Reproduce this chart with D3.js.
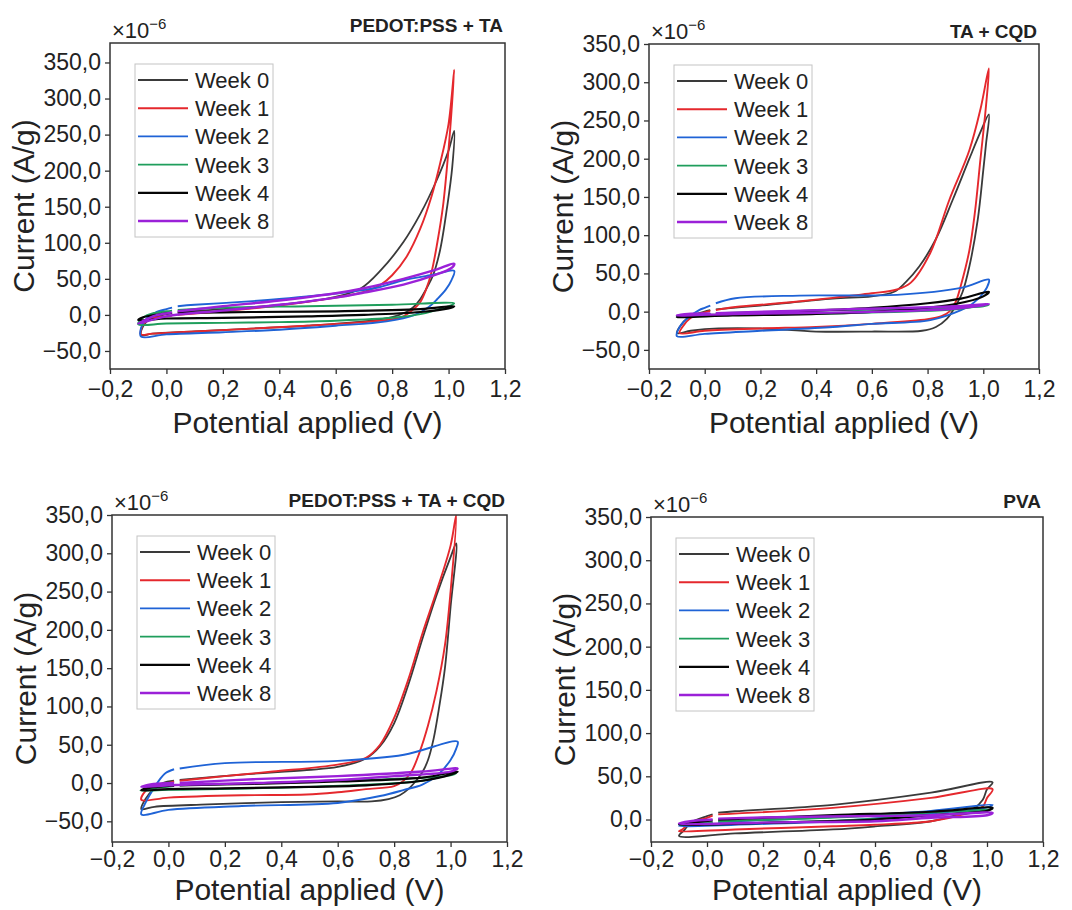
<!DOCTYPE html>
<html>
<head>
<meta charset="utf-8">
<script src="https://cdn.jsdelivr.net/npm/d3@7/dist/d3.min.js"></script>
<style>
  body { margin: 0; background: #fff; }
  svg text { font-family: "Liberation Sans", Arial, sans-serif; }
</style>
</head>
<body>
<div id="chart"></div>
<script>

/* data: cyclic voltammetry loops, current in 1e-6 A/g vs potential in V */
var weeks = ["Week 0", "Week 1", "Week 2", "Week 3", "Week 4", "Week 8"];
var weekColors = ["#3a3a3a", "#e5282d", "#1f63d6", "#1f9e5c", "#050505", "#9b21d8"];
var weekWidths = [1.8, 1.9, 1.9, 1.9, 2.2, 2.4];

var panelTitles = ["PEDOT:PSS + TA", "TA + CQD", "PEDOT:PSS + TA + CQD", "PVA"];
var xTicks = [-0.2, 0, 0.2, 0.4, 0.6, 0.8, 1.0, 1.2];
var yTicks = [-50, 0, 50, 100, 150, 200, 250, 300, 350];

// each loop: forward branch -> 1.02 V -> reverse branch -> -0.1 V -> back up
var pedotTA = [
  [[0.04,4],[0.2,8],[0.4,14],[0.6,25],[0.69,37],[0.76,62],[0.84,101],[0.9,140],[0.957,186],[1.0,228],[1.02,255],
   [1.013,205],[0.995,150],[0.97,90],[0.945,55],[0.925,39],[0.9,22],[0.876,11],[0.85,4],[0.8,-3],[0.7,-9],[0.5,-15],[0.3,-19],[0.1,-23],[-0.05,-26],[-0.09,-28],
   [-0.08,-14],[-0.05,-4],[0.0,1],[0.02,3]],
  [[0.04,0],[0.2,5],[0.4,13],[0.6,24],[0.7,32],[0.76,42],[0.8,55],[0.85,80],[0.9,120],[0.94,165],[0.97,210],[1.0,265],[1.02,340],
   [1.01,280],[1.0,230],[0.98,150],[0.96,100],[0.94,60],[0.92,35],[0.9,18],[0.87,6],[0.84,-2],[0.8,-6],[0.7,-10],[0.5,-15],[0.3,-19],[0.1,-23],[-0.05,-26],[-0.09,-27],
   [-0.08,-12],[-0.05,-5],[0.0,-2],[0.02,-1]],
  [[0.04,12],[0.1,14],[0.265,18],[0.4,22],[0.61,30],[0.75,38],[0.84,48],[0.95,56],[1.02,61],
   [1.01,48],[0.99,35],[0.96,22],[0.93,11],[0.88,0],[0.78,-9],[0.6,-15],[0.38,-21],[0.2,-24],[0.0,-27],[-0.09,-30],
   [-0.09,-18],[-0.07,-5],[-0.04,3],[0.0,8],[0.02,10]],
  [[0.04,7],[0.2,10],[0.5,12],[0.8,14],[1.02,16],
   [1.0,12],[0.95,6],[0.9,1],[0.8,-4],[0.6,-8],[0.4,-10],[0.2,-11],[0.0,-12],[-0.1,-13],
   [-0.08,-3],[-0.05,2],[0.0,5],[0.02,6]],
  [[0.04,3],[0.3,4],[0.6,5],[0.9,8],[1.02,12],
   [1.0,9],[0.9,4],[0.7,0],[0.5,-2],[0.2,-4],[0.0,-5],[-0.1,-7],
   [-0.08,-3],[-0.04,0],[0.0,2],[0.02,2.5]],
  [[0.04,5],[0.2,12],[0.4,20],[0.6,30],[0.7,37],[0.84,50],[0.95,62],[1.02,71],
   [1.01,65],[0.95,55],[0.84,42],[0.7,31],[0.6,24],[0.4,14],[0.2,6],[0.0,-2],[-0.1,-12],
   [-0.08,-8],[-0.04,-1],[0.0,2],[0.02,3.5]]
];

var taCQD = [
  [[0.04,3],[0.2,8],[0.46,17],[0.6,20],[0.68,26],[0.72,38],[0.77,59],[0.83,95],[0.89,146],[0.95,200],[0.99,235],[1.02,258],
   [1.01,220],[1.0,185],[0.98,120],[0.95,59],[0.925,25],[0.9,7],[0.87,-9],[0.83,-20],[0.78,-25],[0.6,-26],[0.4,-26],[0.2,-22],[0.05,-22],[-0.05,-25],[-0.1,-28],
   [-0.09,-20],[-0.06,-8],[-0.02,-2],[0.02,2]],
  [[0.04,2],[0.11,6],[0.3,12],[0.46,18],[0.6,24],[0.69,29],[0.74,38],[0.81,77],[0.878,146],[0.95,211],[0.99,265],[1.02,318],
   [1.01,270],[0.99,200],[0.97,130],[0.95,80],[0.92,35],[0.9,12],[0.878,0],[0.85,-6],[0.8,-10],[0.6,-16],[0.4,-20],[0.2,-22],[0.0,-25],[-0.09,-28],
   [-0.08,-20],[-0.05,-8],[0.0,-1],[0.02,1]],
  [[0.04,11],[0.11,17.5],[0.34,21],[0.69,22],[0.92,31],[1.02,42],
   [1.02,38],[1.0,24],[0.96,10],[0.92,2],[0.81,-11],[0.6,-16],[0.46,-20],[0.2,-25],[0.0,-29],[-0.1,-32],
   [-0.09,-20],[-0.06,-8],[-0.02,2],[0.0,5],[0.02,8]],
  [[0.04,-2],[0.5,2],[1.0,7],[1.02,9],
   [0.9,3],[0.5,-2],[0.0,-4],[-0.1,-6],
   [-0.05,-4],[0.02,-3]],
  [[0.04,-3],[0.3,0],[0.6,5],[0.8,11],[0.92,17],[1.02,26],
   [1.0,20],[0.9,10],[0.7,2],[0.4,-3],[0.1,-5],[-0.1,-7],
   [-0.08,-5],[-0.03,-4],[0.02,-3.5]],
  [[0.04,-2],[0.5,3],[0.9,7],[1.02,10],
   [0.9,4],[0.5,-1],[0.1,-3],[-0.1,-5],
   [-0.06,-3],[0.02,-2.5]]
];

var pedotTACQD = [
  [[0.04,4],[0.26,11],[0.49,17],[0.6,21],[0.7,32],[0.75,48],[0.8,78],[0.85,128],[0.9,188],[0.95,245],[1.0,295],[1.02,313],
   [1.0,230],[0.98,150],[0.96,100],[0.94,58],[0.92,30],[0.9,14],[0.88,4],[0.85,-8],[0.82,-16],[0.78,-21],[0.72,-24],[0.6,-24],[0.4,-25],[0.14,-28],[-0.05,-31],[-0.096,-34],
   [-0.08,-20],[-0.055,-9],[-0.02,0],[0.02,3]],
  [[0.04,3],[0.2,9],[0.37,15],[0.6,24],[0.7,33],[0.75,50],[0.8,85],[0.85,135],[0.9,195],[0.95,250],[1.0,310],[1.02,350],
   [1.0,250],[0.98,180],[0.95,120],[0.92,75],[0.89,40],[0.86,14],[0.83,2],[0.8,-4],[0.7,-8],[0.6,-12],[0.49,-15],[0.26,-16],[0.0,-19],[-0.096,-22],
   [-0.08,-10],[-0.05,-3],[0.0,0],[0.02,2]],
  [[0.04,19],[0.2,26],[0.6,29],[0.835,37],[1.025,54],
   [1.02,45],[1.0,30],[0.95,9],[0.9,-2],[0.835,-9],[0.75,-17],[0.6,-26],[0.26,-30],[0.0,-35],[-0.096,-41],
   [-0.08,-25],[-0.055,-9],[-0.03,5],[-0.01,13],[0.02,18]],
  [[0.04,-3],[0.5,2],[1.0,10],[1.02,13],
   [0.9,3],[0.5,-5],[0.0,-9],[-0.1,-10],
   [-0.05,-7],[0.02,-4]],
  [[0.04,-3],[0.3,-1],[0.6,2],[0.9,7],[1.025,15],
   [1.0,11],[0.9,3],[0.7,-3],[0.5,-5],[0.2,-7],[0.0,-8],[-0.096,-9.5],
   [-0.08,-7],[-0.04,-5],[0.02,-3.5]],
  [[0.04,0],[0.3,5],[0.6,9],[0.9,15],[1.025,19],
   [1.0,15],[0.8,9],[0.6,4],[0.3,0],[0.0,-3],[-0.096,-5],
   [-0.08,-3],[-0.04,-1],[0.02,0]]
];

var pva = [
  [[0.04,8],[0.1,9.6],[0.45,17],[0.8,31],[1.02,43],
   [1.0,35],[0.985,23],[0.95,12],[0.915,7.7],[0.8,-2],[0.6,-8],[0.45,-11.5],[0.1,-16],[-0.1,-19],
   [-0.08,-12],[-0.06,-4],[0.0,4],[0.02,6]],
  [[0.04,6],[0.45,13.5],[0.8,25],[1.02,35],
   [1.0,25],[0.985,15],[0.915,6],[0.8,-2],[0.6,-6],[0.45,-7.7],[0.1,-11.5],[-0.1,-13.5],
   [-0.09,-12],[-0.06,-4],[0.0,2],[0.02,4.6]],
  [[0.04,-3],[0.45,3],[0.8,10],[1.02,17],
   [1.0,14],[0.8,7],[0.45,-2],[0.1,-6],[-0.1,-7.7],
   [-0.08,-6],[0.02,-4]],
  [[0.04,-2],[0.5,3],[1.02,12],
   [0.8,5],[0.4,-2],[0.0,-5],[-0.1,-6],
   [0.02,-3]],
  [[0.04,0],[0.45,5],[0.8,9],[1.02,13.5],
   [1.0,10],[0.8,5],[0.6,0],[0.3,-3],[-0.1,-6],
   [-0.06,-4],[0.02,-1]],
  [[0.04,1],[0.3,3],[0.6,4],[0.8,5],[1.02,7.7],
   [1.0,5],[0.8,2],[0.6,-2],[0.3,-3],[-0.1,-4.6],
   [-0.06,-2],[0.02,0]]
];

var panelData = [pedotTA, taCQD, pedotTACQD, pva];

/* layout of the four frames (pixels), y domain per panel */
var panels = [
  {left: 110, right: 505, top: 43,  bottom: 369, ymin: -75, ymax: 377, titleY: 32,  xTitleGap: 64, tickPad: 7},
  {left: 649, right: 1039, top: 44, bottom: 369, ymin: -75, ymax: 350, titleY: 38,  xTitleGap: 64, tickPad: 7},
  {left: 112, right: 507, top: 515, bottom: 842, ymin: -77, ymax: 350, titleY: 507, xTitleGap: 58, tickPad: 4},
  {left: 651, right: 1043, top: 517, bottom: 842, ymin: -26, ymax: 350, titleY: 508, xTitleGap: 58, tickPad: 4}
];

var svg = d3.select("#chart").append("svg")
  .attr("width", 1072)
  .attr("height", 910);

var fmt = function(v) { return d3.format(".1f")(v).replace(".", ","); };

panels.forEach(function(p, pi) {
  var x = d3.scaleLinear().domain([-0.2, 1.2]).range([p.left, p.right]);
  var y = d3.scaleLinear().domain([p.ymin, p.ymax]).range([p.bottom, p.top]);

  var g = svg.append("g");

  // clip lines to the frame
  g.append("clipPath").attr("id", "clip" + pi)
    .append("rect")
    .attr("x", p.left).attr("y", p.top)
    .attr("width", p.right - p.left).attr("height", p.bottom - p.top);

  var line = d3.line()
    .x(function(d) { return x(d[0]); })
    .y(function(d) { return y(d[1]); })
    .curve(d3.curveCatmullRom.alpha(0.5));

  var lines = g.append("g").attr("clip-path", "url(#clip" + pi + ")");
  panelData[pi].forEach(function(series, si) {
    lines.append("path")
      .datum(series)
      .attr("d", line)
      .attr("fill", "none")
      .attr("stroke", weekColors[si])
      .attr("stroke-width", weekWidths[si])
      .attr("stroke-linejoin", "round");
  });

  // axes
  var xAxis = g.append("g")
    .attr("transform", "translate(0," + p.bottom + ")")
    .call(d3.axisBottom(x).tickValues(xTicks).tickFormat(fmt).tickSize(5).tickSizeOuter(0).tickPadding(p.tickPad));
  var yAxis = g.append("g")
    .attr("transform", "translate(" + p.left + ",0)")
    .call(d3.axisLeft(y).tickValues(yTicks.filter(function(v) { return v >= p.ymin; }))
      .tickFormat(fmt).tickSize(5).tickSizeOuter(0).tickPadding(4));
  [xAxis, yAxis].forEach(function(a) {
    a.select(".domain").remove();
    a.selectAll("line").attr("stroke", "#333").attr("stroke-width", 1.3);
    a.selectAll("text").attr("font-size", "23px").attr("fill", "#222")
      .style("font-family", "'Liberation Sans', Arial, sans-serif");
  });

  // frame
  g.append("rect")
    .attr("x", p.left).attr("y", p.top)
    .attr("width", p.right - p.left).attr("height", p.bottom - p.top)
    .attr("fill", "none").attr("stroke", "#333").attr("stroke-width", 1.5);

  // axis titles
  g.append("text")
    .attr("x", (p.left + p.right) / 2)
    .attr("y", p.bottom + p.xTitleGap)
    .attr("text-anchor", "middle")
    .attr("font-size", "30px").attr("fill", "#222")
    .text("Potential applied (V)");

  g.append("text")
    .attr("transform", "translate(" + (p.left - 76) + "," + ((p.top + p.bottom) / 2) + ") rotate(-90)")
    .attr("text-anchor", "middle")
    .attr("font-size", "30px").attr("fill", "#222")
    .text("Current (A/g)");

  // multiplier
  var mult = g.append("text")
    .attr("x", p.left + 2).attr("y", p.top - 5)
    .attr("font-size", "22px").attr("fill", "#222");
  mult.append("tspan").text("×10");
  mult.append("tspan").attr("font-size", "15px").attr("dy", "-9").text("−6");

  // panel title
  g.append("text")
    .attr("x", p.right - 2).attr("y", p.titleY)
    .attr("text-anchor", "end")
    .attr("font-size", "19px").attr("font-weight", "bold").attr("fill", "#222")
    .text(panelTitles[pi]);

  // legend
  var lx = p.left + 25, ly = p.top + 21;
  var leg = g.append("g");
  leg.append("rect")
    .attr("x", lx).attr("y", ly).attr("width", 138).attr("height", 173)
    .attr("fill", "#fff").attr("stroke", "#c4c4c4").attr("stroke-width", 1);
  weeks.forEach(function(w, i) {
    var yy = ly + 16 + i * 28.2;
    leg.append("line")
      .attr("x1", lx + 3).attr("x2", lx + 53)
      .attr("y1", yy).attr("y2", yy)
      .attr("stroke", weekColors[i]).attr("stroke-width", weekWidths[i]);
    leg.append("text")
      .attr("x", lx + 60).attr("y", yy).attr("dy", "0.36em")
      .attr("font-size", "22px").attr("fill", "#222")
      .text(w);
  });
});

</script>
</body>
</html>
